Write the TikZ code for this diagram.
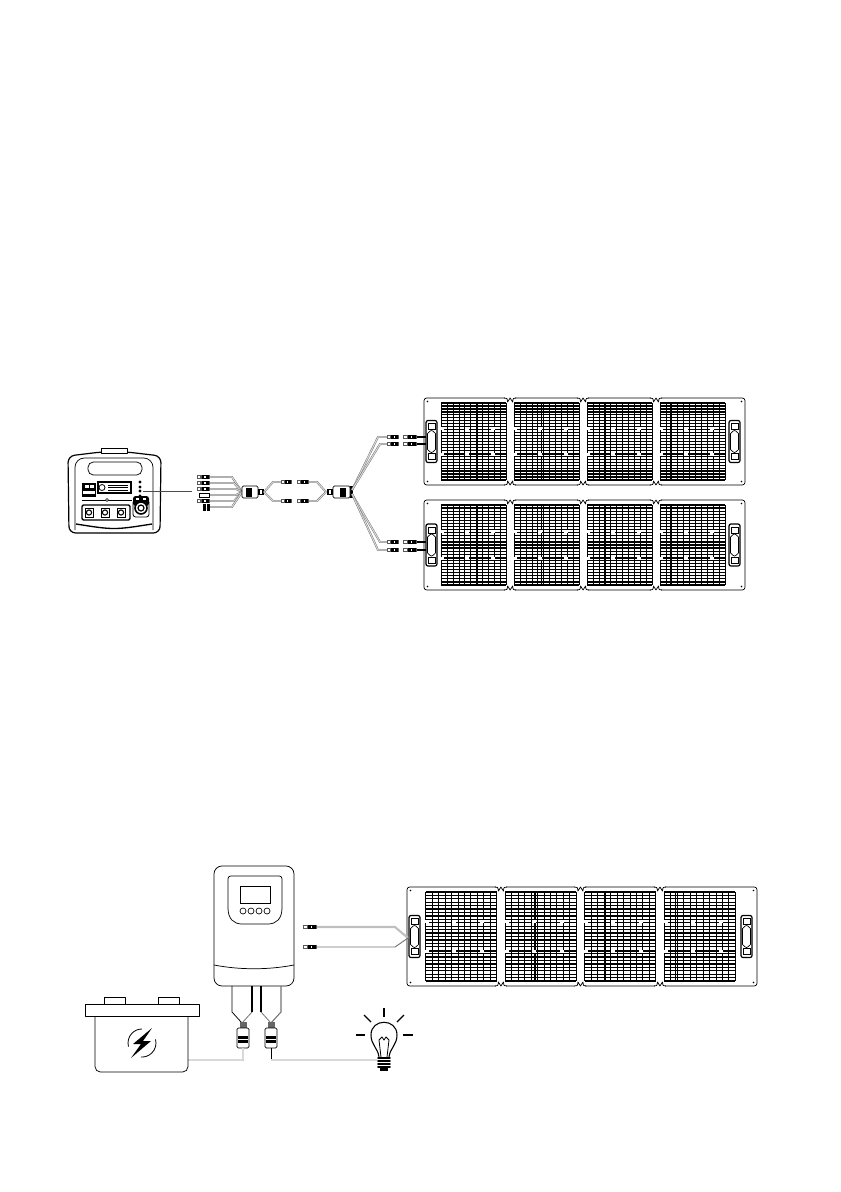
\documentclass[tikz,border=0pt]{standalone}
\usetikzlibrary{calc, arrows.meta}
\tikzset{
    outline/.style={draw=black, line width=0.55pt, line join=round},
    cable/.style={draw=black!60, line width=0.3pt, double=black!15, double distance=0.8pt, line join=round},
    thincable/.style={draw=black!55, line width=0.7pt, line join=round},
}
\begin{document}
\begin{tikzpicture}[x=0.75pt, y=-0.75pt]
    \useasboundingbox (0,0) rectangle (840,1192);
    % cell grid of one panel section
    \def\cells#1#2#3#4{
        \foreach \r in {0, ..., 26} {
            \draw[line width=0.95pt] (#1, {(#2)+\r*((#4)-(#2))/26}) -- (#3, {(#2)+\r*((#4)-(#2))/26});
        };
        \foreach \c in {0, ..., 11} {
            \draw[line width=0.5pt] ({#1+\c*(#3-#1)/11}, #2) -- ({#1+\c*(#3-#1)/11}, #4);
        };
        \draw[line width=1.3pt] (#1, {(#2)+((#4)-(#2))*0.66}) -- (#3, {(#2)+((#4)-(#2))*0.66});
        \draw[line width=0.9pt] ({#1+(#3-#1)*(0.55-0.13*\k)}, #2) -- ({#1+(#3-#1)*(0.55-0.13*\k)}, #4);
        \foreach \c in {0.02, 0.4, 0.8} {
            \fill[white] ({#1+\c*(#3-#1)-2}, {(#2)+((#4)-(#2))*0.33-1.2}) rectangle ({#1+\c*(#3-#1)+2}, {(#2)+((#4)-(#2))*0.33+1.2});
            \fill[white] ({#1+\c*(#3-#1)-2}, {(#2)+((#4)-(#2))*0.67-1.2}) rectangle ({#1+\c*(#3-#1)+2}, {(#2)+((#4)-(#2))*0.67+1.2});
        };
    }
    % folding handle
    \def\handle#1#2#3#4{
        \draw[line width=0.9pt, rounded corners=1.5pt] (#1, #2) rectangle (#3, #4);
        \draw[line width=0.5pt] ({#1+2}, {#2+3}) rectangle ({#3-2}, {#2+9});
        \draw[line width=0.5pt] ({#1+2}, {#4-3}) rectangle ({#3-2}, {#4-9});
        \draw[line width=0.5pt] ({#1+1.5}, {#2+13}) .. controls ({(#1+#3)/2}, {#2+9}) .. ({#3-1.5}, {#2+13}) -- ({#3-1.5}, {#4-13}) .. controls ({(#1+#3)/2}, {#4-9}) .. ({#1+1.5}, {#4-13}) -- cycle;
    }
    % whole foldable panel
    \def\panel#1#2#3#4{
        \pgfmathsetmacro\W{#3-#1}
        \draw[outline, rounded corners=2pt] (#1, #2) rectangle (#3, #4);
        \foreach \k in {0, 1, 2, 3} {
            \pgfmathsetmacro\gl{#1+0.0535*\W+\k*0.2272*\W}
            \pgfmathsetmacro\gr{\gl+0.2025*\W}
            \cells{\gl}{#2+5}{\gr}{#4-5}
        };
        \foreach \k in {1, 2, 3} {
            \pgfmathsetmacro\nx{#1+0.0535*\W+\k*0.2272*\W-0.0124*\W}
            \fill[white] ({\nx-5}, {#2-1}) rectangle ({\nx+5}, {#2+1});
            \fill[white] ({\nx-5}, {#4-1}) rectangle ({\nx+5}, {#4+1});
            \draw[outline] ({\nx-6}, #2) .. controls ({\nx-3}, #2) .. ({\nx-2.5}, {#2+4}) -- (\nx, #2) -- ({\nx+2.5}, {#2+4}) .. controls ({\nx+3}, #2) .. ({\nx+6}, #2);
            \draw[outline] ({\nx-6}, #4) .. controls ({\nx-3}, #4) .. ({\nx-2.5}, {#4-4}) -- (\nx, #4) -- ({\nx+2.5}, {#4-4}) .. controls ({\nx+3}, #4) .. ({\nx+6}, #4);
        };
        \pgfmathsetmacro\hy{(#2+#4)/2}
        \handle{#1+2}{\hy-21}{#1+13}{\hy+21}
        \handle{#3-16}{\hy-21}{#3-5}{\hy+21}
        \foreach \cx in {#1+3.5, #3-3.5} {
            \fill ({\cx}, {#2+3.5}) circle (0.9);
            \fill ({\cx}, {#4-3.5}) circle (0.9);
        };
    }
    % solar connector, dark body with light bands
    \def\plug#1#2#3#4{
        \fill[black!65] (#1, {#2-#4}) rectangle ({#1+#3}, {#2+#4});
        \fill[black] ({#1+0.35*#3}, {#2-#4}) rectangle ({#1+0.9*#3}, {#2+#4});
        \fill[white] ({#1+0.1*#3}, {#2-0.5*#4}) rectangle ({#1+0.25*#3}, {#2+0.5*#4});
        \fill[white] ({#1+0.55*#3}, {#2-0.5*#4}) rectangle ({#1+0.67*#3}, {#2+0.5*#4});
    }
    % inline fuse box
    \def\fusebox#1#2#3#4#5{
        \draw[outline, rounded corners=1pt, fill=white] (#1, #2) rectangle (#3, #4);
        \fill (#5, {#2+1.5}) rectangle ({#5+6}, {#4-1.5});
    }

    % power station
    \draw[line width=0.9pt, rounded corners=5pt] (69, 533) -- (68, 456) -- (101, 452) -- (127, 452) -- (161, 456) -- (160, 533) -- cycle;
    \draw[outline, fill=white] (101, 448) rectangle (127, 453);
    \draw[outline, rounded corners=7pt] (75, 530) -- (75, 458) -- (153, 458) -- (153, 530);
    \draw[line width=1pt] (76, 524) .. controls (114, 530) .. (152, 524);
    \draw[outline, rounded corners=4pt] (88, 462) rectangle (142, 475);
    \fill (82, 483) rectangle (96, 497);
    \fill[white] (85, 485) rectangle (89, 488);
    \fill[white] (90, 485) rectangle (94, 488);
    \fill[white] (83, 491) rectangle (95, 494);
    \fill (97, 481) rectangle (132, 494);
    \fill[white] (99, 483) rectangle (130, 492);
    \draw[line width=0.6pt] (102, 487.5) circle (3);
    \foreach \ry in {485, 487.5, 490} {
        \draw[line width=0.6pt] (108, \ry) -- (128, \ry);
    };
    \foreach \ly in {482, 487, 491, 496} {
        \draw[line width=0.6pt] (140, \ly) circle (1);
    };
    \draw[line width=0.7pt] (82, 500) -- (132, 500);
    \draw[line width=0.5pt, fill=white] (107, 500) circle (1.5);
    \draw[line width=1.1pt, rounded corners=1pt] (82, 505) rectangle (130, 520);
    \foreach \ox in {89, 105, 121} {
        \draw[line width=0.5pt] ({\ox-4}, 508) rectangle ({\ox+4}, 517);
        \draw[line width=0.8pt] (\ox, 512.5) circle (2.6);
    };
    \fill[rounded corners=2pt] (133, 496) rectangle (149, 506);
    \draw[line width=0.6pt, rounded corners=2pt] (133, 500) rectangle (149, 517);
    \fill[white] (136, 498) rectangle (139, 500);
    \fill[white] (143, 498) rectangle (146, 500);
    \draw[line width=1.2pt, fill=white] (141, 508) circle (6);
    \draw[line width=0.9pt] (141, 508) circle (3);

    % left plug group with its cables
    \coordinate (splitL) at (242, 492);
    \coordinate (stationport) at (143, 491);
    \draw[black!70, line width=0.45pt] (stationport) -- (192, 491);
    \foreach \py/\pe in {477/232, 483/234, 489/236, 501/234} {
        \draw[cable] (210, \py) -- (\pe, \py) -- (splitL);
        \plug{197}{\py}{13}{1.7}
    };
    \draw[cable] (210, 495) -- (236, 495) -- (splitL);
    \draw[line width=0.4pt, fill=white] (199, 493) rectangle (209, 497);
    \draw[cable] (210, 507) -- (232, 507) -- (splitL);
    \fill (203, 503.5) rectangle (210, 510.5);
    \fill[white] (206, 503.5) rectangle (207, 510.5);
    \fusebox{242}{486}{258}{498}{246}
    \fill (258, 489) rectangle (264, 495);
    \fill[white] (260, 490) rectangle (262, 494);
    \fill (350, 486) rectangle (353, 498);

    % middle link
    \coordinate (splitM) at (264, 492);
    \coordinate (splitR) at (326, 492);
    \foreach \my in {482, 501} {
        \draw[cable] (splitM) -- (273, \my) -- (281, \my);
        \plug{281}{\my}{11}{2.2}
        \plug{297}{\my}{12}{2.2}
        \draw[cable] (309, \my) -- (317, \my) -- (splitR);
    };
    \fill (327, 489) rectangle (333, 495);
    \fill[white] (329, 490) rectangle (331, 494);
    \fusebox{333}{486}{350}{498}{340}

    % panel connections
    \panel{424}{398}{745}{485}
    \panel{424}{500}{745}{590}
    \coordinate (splitT) at (352, 490);
    \coordinate (splitB) at (352, 494);
    \foreach \cy/\ck/\cs in {437/378/splitT, 444/380/splitT, 542/380/splitB, 550/378/splitB} {
        \draw[cable] (\cs) -- (\ck, \cy) -- (387, \cy);
        \plug{387}{\cy}{12}{2.2}
        \plug{403}{\cy}{14}{2.2}
        \draw[black, line width=0.9pt] (417, \cy) -- (426, \cy);
    };

    % charge controller
    \draw[outline, rounded corners=6pt] (214, 866) rectangle (294, 986);
    \draw[outline] (214, 965) .. controls (240, 970) and (268, 970) .. (294, 965);
    \draw[outline, rounded corners=2pt] (228, 908) -- (228, 876) -- (282, 876) -- (282, 908);
    \draw[outline] (228, 908) .. controls (228, 919) and (234, 924) .. (242, 924) -- (268, 924) .. controls (276, 924) and (282, 919) .. (282, 908);
    \draw[line width=0.7pt] (240, 886) rectangle (270, 903);
    \foreach \bx in {243, 251, 259, 267} {
        \draw[line width=0.5pt] (\bx, 911) circle (3);
    };

    % controller leads and connectors
    \coordinate (neckA) at (242, 1023);
    \coordinate (neckB) at (271, 1023);
    \draw[outline] (232, 986) -- (232, 1012) -- (neckA);
    \draw[line width=1.4pt] (252, 986) -- (252, 1012);
    \draw[black!55, line width=0.6pt] (252, 1012) -- (neckA);
    \draw[line width=1.4pt] (261, 986) -- (261, 1012);
    \draw[black!55, line width=0.6pt] (261, 1012) -- (neckB);
    \draw[black!55, line width=0.8pt] (281, 986) -- (281, 1012) -- (neckB);
    \foreach \jx in {243, 271} {
        \fill[black!60] ({\jx-3.5}, 1022) rectangle ({\jx+3.5}, 1028);
        \draw[outline, rounded corners=1pt] ({\jx-6}, 1028) rectangle ({\jx+6}, 1048);
        \fill ({\jx-5}, 1036) rectangle ({\jx+5}, 1043);
        \fill[white] ({\jx-5}, 1039) rectangle ({\jx+5}, 1040);
    };
    \coordinate (batterypost) at (188, 1060);
    \coordinate (lampbase) at (377, 1060);
    \draw[cable] (243, 1048) -- (243, 1060) -- (batterypost);
    \draw[black, line width=0.6pt] (271, 1048) -- (271, 1060);
    \draw[cable] (271, 1060) -- (lampbase);

    % battery
    \draw[outline] (104, 1004) rectangle (125, 997);
    \draw[outline] (158, 1004) rectangle (179, 997);
    \draw[outline] (85, 1004) rectangle (199, 1016);
    \draw[outline, rounded corners=4pt] (95, 1016) -- (95, 1072) -- (188, 1072) -- (188, 1016);
    \draw[line width=0.6pt] (142, 1043) +(165:14) arc (165:270:14);
    \draw[line width=0.6pt] (142, 1043) +(-15:14) arc (-15:95:14);
    \fill (152, 1028) -- (133, 1044) -- (141, 1044) -- (131, 1058) -- (151, 1041) -- (143, 1041) -- cycle;

    % lamp
    \draw[line width=0.8pt] (379, 1057) .. controls (378, 1048) and (371, 1045) .. (371, 1035) .. controls (371, 1018) and (397, 1018) .. (397, 1035) .. controls (397, 1045) and (390, 1048) .. (389, 1057);
    \draw[line width=0.6pt] (381, 1057) -- (379, 1040) -- (382, 1037) -- (384, 1040) -- (386, 1037) -- (389, 1040) -- (387, 1057);
    \foreach \ly in {1058, 1061, 1064, 1067} {
        \draw[line width=1.4pt, line cap=round] (378, \ly) -- (390, \ly);
    };
    \fill (380, 1068) rectangle (388, 1071);
    \foreach \rx/\ry/\sx/\sy in {384/1008/384/1017, 364/1015/371/1022, 404/1015/397/1022, 356/1035/365/1035, 403/1035/413/1035} {
        \draw[line width=1pt] (\rx, \ry) -- (\sx, \sy);
    };

    % lower panel and its leads
    \panel{407}{887}{757}{986}
    \coordinate (panelport) at (408, 938);
    \draw[black!25, line width=1.6pt, line join=round] (317, 927) -- (395, 927) -- (panelport);
    \draw[thincable] (317, 947) -- (395, 947) -- (panelport);
    \plug{303}{927}{14}{2.2}
    \plug{303}{947}{14}{2.2}
\end{tikzpicture}
\end{document}
